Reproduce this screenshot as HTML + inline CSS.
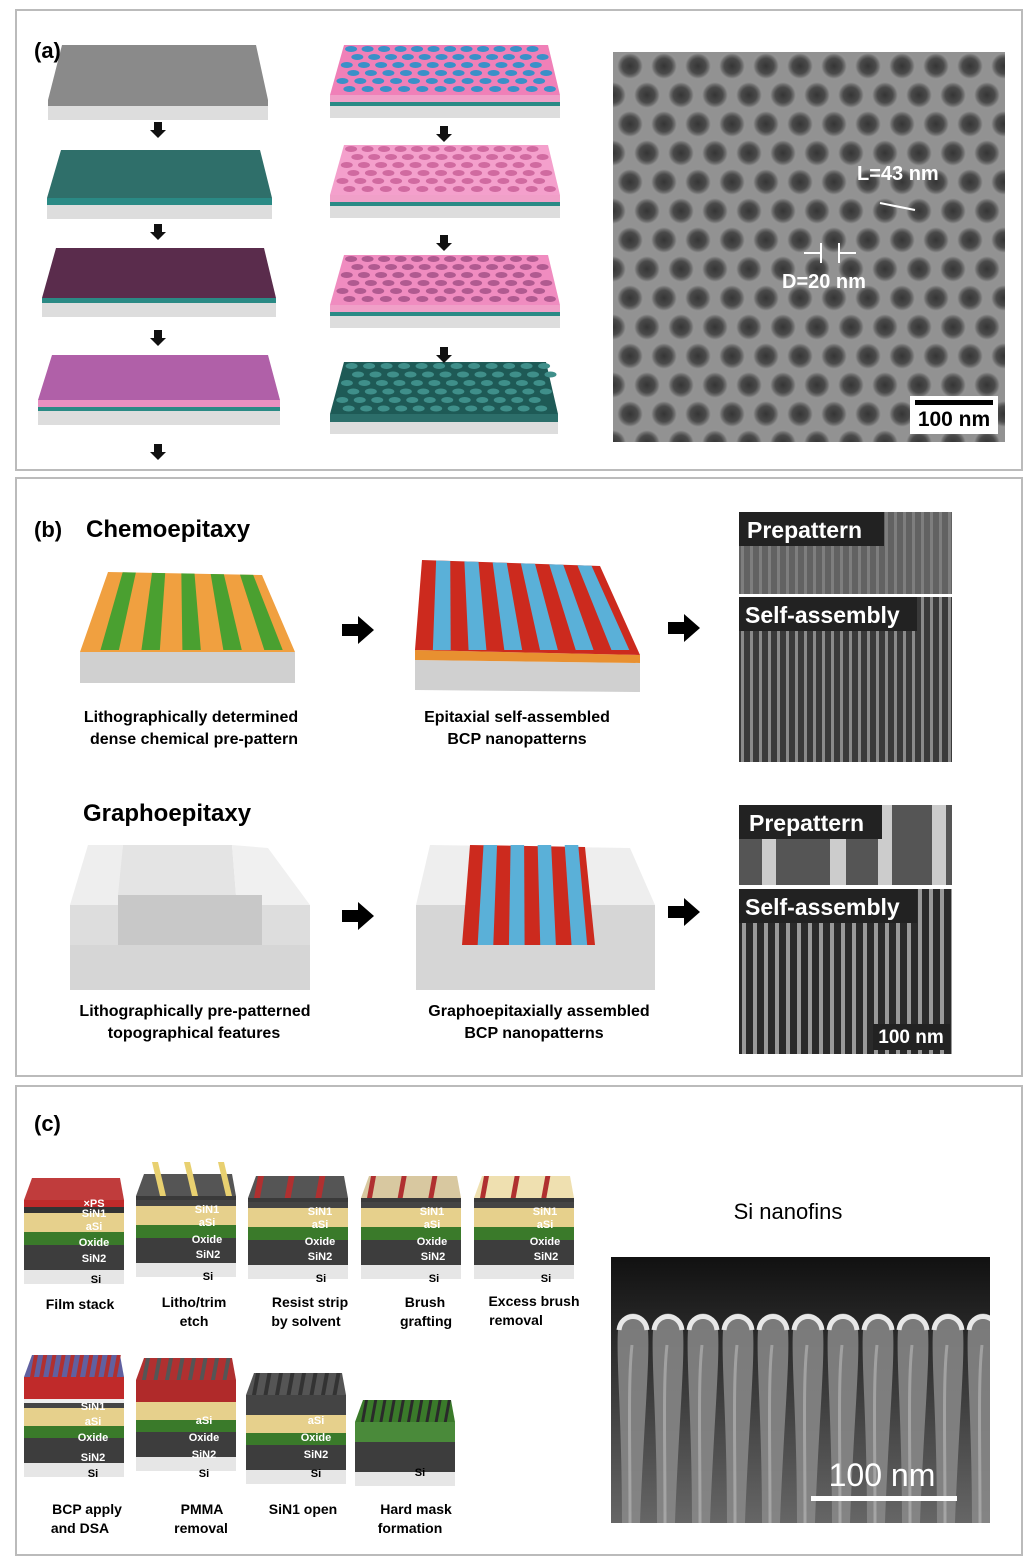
<!DOCTYPE html>
<html><head><meta charset="utf-8"><style>
body{margin:0;background:#fff;width:1025px;height:1557px;overflow:hidden}
svg{display:block}
text{font-family:"Liberation Sans",Arial,sans-serif}
</style></head><body>
<svg id="s" width="1025" height="1557" viewBox="0 0 1025 1557" xmlns="http://www.w3.org/2000/svg">
<defs>
<radialGradient id="hole"><stop offset="0" stop-color="#353535"/><stop offset="0.55" stop-color="#4a4a4a"/><stop offset="0.8" stop-color="#777"/><stop offset="1" stop-color="#a0a0a0" stop-opacity="0"/></radialGradient>
<pattern id="holes" x="613" y="52" width="34" height="58" patternUnits="userSpaceOnUse">
<rect width="34" height="58" fill="#929292"/>
<circle cx="17" cy="14" r="14" fill="url(#hole)"/>
<circle cx="0" cy="43" r="14" fill="url(#hole)"/><circle cx="34" cy="43" r="14" fill="url(#hole)"/>
</pattern>
<pattern id="sem1" x="739" y="0" width="9" height="10" patternUnits="userSpaceOnUse">
<rect width="9" height="10" fill="#3a3a3a"/><rect x="2" width="3" height="10" fill="#8a8a8a"/></pattern>
<pattern id="sem2" x="739" y="0" width="11" height="10" patternUnits="userSpaceOnUse">
<rect width="11" height="10" fill="#2a2a2a"/><rect x="3" width="4" height="10" fill="#999"/></pattern>
<linearGradient id="finbg" x1="0" y1="0" x2="0" y2="1"><stop offset="0" stop-color="#111"/><stop offset="0.3" stop-color="#2a2a2a"/><stop offset="1" stop-color="#666"/></linearGradient>
<clipPath id="fc"><rect x="611" y="1257" width="379" height="266"/></clipPath>
</defs>
<g fill="none" stroke="#bbb" stroke-width="2">
<rect x="16" y="10" width="1006" height="460"/>
<rect x="16" y="478" width="1006" height="598"/>
<rect x="16" y="1086" width="1006" height="469"/>
</g>
<g id="A"></g>
<rect x="613" y="52" width="392" height="390" fill="url(#holes)"/>
<rect x="910" y="396" width="88" height="38" fill="#fff"/>
<rect x="915" y="400" width="78" height="5" fill="#000"/>
<text x="954" y="426" font-size="21" font-weight="bold" text-anchor="middle">100 nm</text>
<text x="857" y="180" font-size="20" font-weight="bold" fill="#fff">L=43 nm</text>
<text x="782" y="288" font-size="20" font-weight="bold" fill="#fff">D=20 nm</text>
<path d="M880 203 L915 210 M804 253 L822 253 M838 253 L856 253 M821 243 V263 M839 243 V263" stroke="#fff" stroke-width="2"/>
<text x="34" y="58" font-size="22" font-weight="bold">(a)</text>

<text x="34" y="537" font-size="22" font-weight="bold">(b)</text>
<text x="86" y="537" font-size="24" font-weight="bold">Chemoepitaxy</text>
<text x="83" y="821" font-size="24" font-weight="bold">Graphoepitaxy</text>
<g id="B"></g>
<g font-size="16" font-weight="bold" text-anchor="middle">
<text x="191" y="722">Lithographically determined</text>
<text x="194" y="744">dense chemical pre-pattern</text>
<text x="517" y="722">Epitaxial self-assembled</text>
<text x="517" y="744">BCP nanopatterns</text>
<text x="195" y="1016">Lithographically pre-patterned</text>
<text x="194" y="1038">topographical features</text>
<text x="539" y="1016">Graphoepitaxially assembled</text>
<text x="534" y="1038">BCP nanopatterns</text>
</g>
<rect x="739" y="512" width="213" height="82" fill="#777"/>
<rect x="739" y="512" width="213" height="82" fill="url(#sem1)" opacity="0.35"/>
<rect x="739" y="597" width="213" height="165" fill="url(#sem1)"/>
<rect x="739" y="512" width="145" height="34" fill="#222"/>
<text x="747" y="538" font-size="23" font-weight="bold" fill="#fff">Prepattern</text>
<rect x="739" y="597" width="178" height="34" fill="#222"/>
<text x="745" y="623" font-size="23" font-weight="bold" fill="#fff">Self-assembly</text>
<g fill="#555"><rect x="739" y="805" width="213" height="80"/></g>
<g fill="#ccc"><rect x="762" y="805" width="14" height="80"/><rect x="830" y="805" width="16" height="80"/><rect x="878" y="805" width="14" height="80"/><rect x="932" y="805" width="14" height="80"/></g>
<rect x="739" y="889" width="213" height="165" fill="url(#sem2)"/>
<rect x="739" y="805" width="143" height="34" fill="#222"/>
<text x="749" y="831" font-size="23" font-weight="bold" fill="#fff">Prepattern</text>
<rect x="739" y="889" width="178" height="34" fill="#222"/>
<text x="745" y="915" font-size="23" font-weight="bold" fill="#fff">Self-assembly</text>
<rect x="873" y="1024" width="77" height="26" fill="#222"/>
<text x="911" y="1043" font-size="19" font-weight="bold" fill="#fff" text-anchor="middle">100 nm</text>

<text x="34" y="1131" font-size="22" font-weight="bold">(c)</text>
<text x="788" y="1219" font-size="22" text-anchor="middle">Si nanofins</text>
<rect x="611" y="1257" width="379" height="266" fill="url(#finbg)"/>
<g id="F" clip-path="url(#fc)"></g>
<text x="882" y="1486" font-size="32" fill="#fff" text-anchor="middle">100 nm</text>
<rect x="811" y="1496" width="146" height="5" fill="#fff"/>
<g id="C"></g>
<g font-size="14" font-weight="bold" text-anchor="middle">
<text x="80" y="1309">Film stack</text>
<text x="194" y="1307">Litho/trim</text><text x="194" y="1326">etch</text>
<text x="310" y="1307">Resist strip</text><text x="306" y="1326">by solvent</text>
<text x="425" y="1307">Brush</text><text x="426" y="1326">grafting</text>
<text x="534" y="1306">Excess brush</text><text x="516" y="1325">removal</text>
<text x="87" y="1514">BCP apply</text><text x="80" y="1533">and DSA</text>
<text x="202" y="1514">PMMA</text><text x="201" y="1533">removal</text>
<text x="303" y="1514">SiN1 open</text>
<text x="416" y="1514">Hard mask</text><text x="410" y="1533">formation</text>
</g>
<g id="L" font-size="11" font-weight="bold" fill="#fff" text-anchor="middle">
<text x="94" y="1207">×PS</text><text x="94" y="1217">SiN1</text><text x="94" y="1230">aSi</text><text x="94" y="1246">Oxide</text><text x="94" y="1262">SiN2</text><text x="96" y="1283" fill="#000">Si</text>
<text x="207" y="1213">SiN1</text><text x="207" y="1226">aSi</text><text x="207" y="1243">Oxide</text><text x="208" y="1258">SiN2</text><text x="208" y="1280" fill="#000">Si</text>
<text x="320" y="1215">SiN1</text><text x="320" y="1228">aSi</text><text x="320" y="1245">Oxide</text><text x="320" y="1260">SiN2</text><text x="321" y="1282" fill="#000">Si</text>
<text x="432" y="1215">SiN1</text><text x="432" y="1228">aSi</text><text x="432" y="1245">Oxide</text><text x="433" y="1260">SiN2</text><text x="434" y="1282" fill="#000">Si</text>
<text x="545" y="1215">SiN1</text><text x="545" y="1228">aSi</text><text x="545" y="1245">Oxide</text><text x="546" y="1260">SiN2</text><text x="546" y="1282" fill="#000">Si</text>
<text x="93" y="1410">SiN1</text><text x="93" y="1425">aSi</text><text x="93" y="1441">Oxide</text><text x="93" y="1461">SiN2</text><text x="93" y="1477" fill="#000">Si</text>
<text x="204" y="1424">aSi</text><text x="204" y="1441">Oxide</text><text x="204" y="1458">SiN2</text><text x="204" y="1477" fill="#000">Si</text>
<text x="316" y="1424">aSi</text><text x="316" y="1441">Oxide</text><text x="316" y="1458">SiN2</text><text x="316" y="1477" fill="#000">Si</text>
<text x="420" y="1476" fill="#000">Si</text>
</g>
</svg>
<script>
var NS="http://www.w3.org/2000/svg";
function el(g,tag,a){var e=document.createElementNS(NS,tag);for(var k in a)e.setAttribute(k,a[k]);document.getElementById(g).appendChild(e);return e;}
function poly(g,pts,fill,extra){var a={points:pts.map(function(p){return p.join(',')}).join(' '),fill:fill};for(var k in extra)a[k]=extra[k];return el(g,'polygon',a);}
function slab(x,y,w,d,top,layers,gid){
  poly(gid,[[x+14,y],[x+w-12,y],[x+w,y+d],[x,y+d]],top);
  var yy=y+d;
  layers.forEach(function(l){poly(gid,[[x,yy],[x+w,yy],[x+w,yy+l[1]],[x,yy+l[1]]],l[0]);yy+=l[1];});
}
slab(48,45,220,55,'#8a8a8a',[['#8a8a8a',6],['#ddd',14]],'A');
slab(47,150,225,48,'#2f6f6a',[['#2a8a85',7],['#ddd',14]],'A');
slab(42,248,234,50,'#5a2c4c',[['#2a8a85',5],['#ddd',14]],'A');
slab(38,355,242,45,'#b060a8',[['#e890c0',7],['#2a8a85',4],['#ddd',14]],'A');
function blueslab(y,top,hole){
  slab(330,y,230,50,top,[['#f0a0c8',7],['#2a8a85',4],['#ddd',12]],'A');
  for(var r=0;r<6;r++)for(var c=0;c<12;c++){var t=(r+0.5)/6;var xl=330+14*(1-t);var xr=560-12*(1-t);var cx=xl+(xr-xl)*(c+0.5+(r%2)*0.5)/12.5;var cy=y+4+r*8;
    el('A','ellipse',{cx:cx,cy:cy,rx:6,ry:3,fill:hole});}
}
blueslab(45,'#f080b8','#3a90c8');
blueslab(145,'#f4a0cc','#d06aa0');
blueslab(255,'#f08cc0','#b05a90');
slab(330,362,228,52,'#1e5a56',[['#2c6e6a',8],['#ddd',12]],'A');
for(var r=0;r<6;r++)for(var c=0;c<12;c++){var t=(r+0.5)/6;var cx=344-14*t+(c+0.5+(r%2)*0.5)*17.5;if(cx>552)continue;el('A','ellipse',{cx:cx,cy:366+r*8.5,rx:6,ry:3,fill:'#3f8f8a'});}
function darr(g,x,y){poly(g,[[x-4,y-8],[x+4,y-8],[x+4,y],[x+8,y],[x,y+8],[x-8,y],[x-4,y]],'#111');}
[[158,130],[158,232],[158,338],[158,452],[444,134],[444,243],[444,355]].forEach(function(p){darr('A',p[0],p[1]);});
function rarr(x,y){poly('B',[[x,y-6],[x+16,y-6],[x+16,y-14],[x+32,y],[x+16,y+14],[x+16,y+6],[x,y+6]],'#000');}
rarr(342,630);rarr(668,628);rarr(342,916);rarr(668,912);
poly('B',[[80,652],[295,652],[295,683],[80,683]],'#d0d0d0');
poly('B',[[108,572],[262,575],[295,652],[80,652]],'#f0a040');
for(var i=0;i<5;i++){var a=(i*2+1)/10.5,b=(i*2+1.9)/10.5;poly('B',[[108+154*a,572+3*a],[108+154*b,572+3*b],[80+215*b,650],[80+215*a,650]],'#4aa030');}
poly('B',[[415,660],[640,663],[640,692],[415,690]],'#d0d0d0');
poly('B',[[415,650],[640,655],[640,663],[415,660]],'#e89030');
poly('B',[[422,560],[600,566],[640,655],[415,650]],'#cc2a1e');
for(var i=0;i<6;i++){var a=(i*2+1)/12.6,b=(i*2+2)/12.6;poly('B',[[422+178*a,560+6*a],[422+178*b,560+6*b],[415+225*b,650],[415+225*a,650]],'#5ab0d8');}
poly('B',[[70,905],[310,905],[310,990],[70,990]],'#d6d6d6');
poly('B',[[88,845],[123,845],[118,905],[70,905]],'#eee');
poly('B',[[70,905],[118,905],[118,945],[70,945]],'#ddd');
poly('B',[[123,845],[232,845],[236,895],[118,895]],'#e4e4e4');
poly('B',[[232,845],[268,848],[310,905],[262,905],[262,895],[236,895]],'#f0f0f0');
poly('B',[[118,945],[262,945],[262,895],[118,895]],'#c8c8c8');
poly('B',[[262,905],[310,905],[310,945],[262,945]],'#ddd');
poly('B',[[416,905],[655,905],[655,990],[416,990]],'#d6d6d6');
poly('B',[[430,845],[630,848],[655,905],[416,905]],'#eee');
poly('B',[[470,845],[585,847],[595,945],[462,945]],'#cc2a1e');
for(var i=0;i<4;i++){var a=(i*2+1)/8.5,b=(i*2+2)/8.5;poly('B',[[470+115*a,845],[470+115*b,845],[462+133*b,945],[462+133*a,945]],'#5ab0d8');}
function stack(x,y,opts){
  var w=100,d=22;
  var L=opts.layers, yy=y+d;
  poly('C',[[x+8,y],[x+w-4,y],[x+w,y+d],[x,y+d]],opts.top);
  L.forEach(function(l){poly('C',[[x,yy],[x+w,yy],[x+w,yy+l[1]],[x,yy+l[1]]],l[0]);yy+=l[1];});
  if(opts.fins){opts.fins.forEach(function(f){poly('C',[[x+f[0],y-12],[x+f[0]+6,y-12],[x+f[0]+14,y+d],[x+f[0]+8,y+d]],f[1]);});}
  if(opts.lines){for(var i=0;i<opts.lines.n;i++){var fx=x+6+i*(w-8)/opts.lines.n;poly('C',[[fx+4,y],[fx+4+opts.lines.w,y],[fx+opts.lines.w,y+d],[fx,y+d]],opts.lines.c);}}
}
var base=[['#c02a2a',7],['#333',6],['#e6d08c',19],['#3a7a2a',13],['#3d3d3d',25],['#e6e6e6',14]];
stack(24,1178,{top:'#c03c3c',layers:base});
var b2=[['#3a3a3a',4],['#444',6],['#e6d08c',19],['#3a7a2a',13],['#3d3d3d',25],['#e6e6e6',14]];
stack(136,1174,{top:'#555',layers:b2,fins:[[16,'#e8d070'],[48,'#e8d070'],[82,'#e8d070']]});
stack(248,1176,{top:'#555',layers:b2,lines:{n:3,w:6,c:'#b03030'}});
stack(361,1176,{top:'#d8c8a0',layers:b2,lines:{n:3,w:5,c:'#b03030'}});
stack(474,1176,{top:'#efe0b0',layers:b2,lines:{n:3,w:5,c:'#b03030'}});
var r2=[['#c02a2a',22],['#eee',4],['#444',5],['#e6d08c',18],['#3a7a2a',12],['#3d3d3d',25],['#e6e6e6',14]];
stack(24,1355,{top:'#6060a0',layers:r2,lines:{n:10,w:4,c:'#b03030'}});
var r3=[['#b02a2a',22],['#e6d08c',18],['#3a7a2a',12],['#3d3d3d',25],['#e6e6e6',14]];
stack(136,1358,{top:'#b03030',layers:r3,lines:{n:8,w:4,c:'#555'}});
var r4=[['#444',20],['#e6d08c',18],['#3a7a2a',12],['#3d3d3d',25],['#e6e6e6',14]];
stack(246,1373,{top:'#555',layers:r4,lines:{n:8,w:4,c:'#333'}});
stack(355,1400,{top:'#3a7a2a',layers:[['#4a8a3a',20],['#3d3d3d',30],['#e6e6e6',14]],lines:{n:10,w:3,c:'#2a2a2a'}});
for(var i=0;i<11;i++){var fx=618+i*35;el('F','path',{d:'M'+(fx+4)+' 1523 C'+(fx+4)+' 1420 '+(fx-2)+' 1360 '+fx+' 1330 C'+(fx+2)+' 1308 '+(fx+28)+' 1308 '+(fx+30)+' 1330 C'+(fx+32)+' 1360 '+(fx+26)+' 1420 '+(fx+22)+' 1523 Z',fill:'#8a8a8a',opacity:'0.85'});
el('F','path',{d:'M'+(fx+1)+' 1330 C'+(fx+3)+' 1312 '+(fx+27)+' 1312 '+(fx+29)+' 1330',stroke:'#e8e8e8','stroke-width':'5',fill:'none'});
el('F','path',{d:'M'+(fx+12)+' 1523 C'+(fx+12)+' 1440 '+(fx+10)+' 1380 '+(fx+14)+' 1345',stroke:'#bbb','stroke-width':'3',fill:'none',opacity:'0.6'});}
</script>
</body></html>
